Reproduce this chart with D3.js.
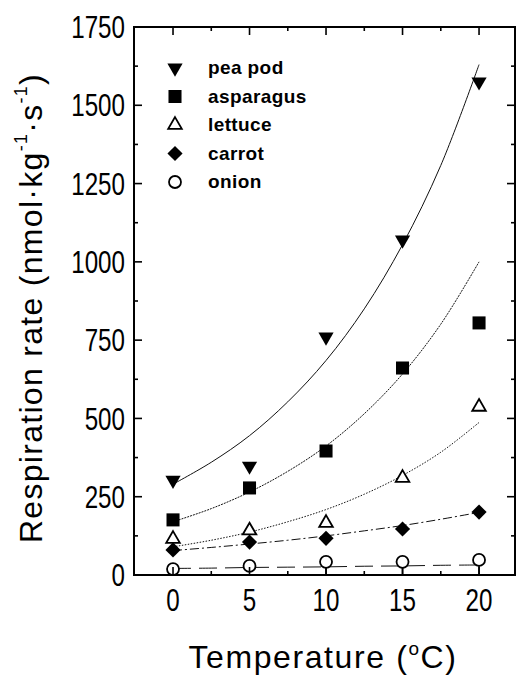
<!DOCTYPE html>
<html>
<head>
<meta charset="utf-8">
<script src="https://cdn.jsdelivr.net/npm/d3@7"></script>
<style>
  body { margin: 0; background: #fff; }
  svg { display: block; }
  text { font-family: Arial, "Liberation Sans", sans-serif; fill: #000; }
</style>
</head>
<body>
<div id="chart"></div>
<script>
// Measured temperatures (°C)
const temps = [0, 5, 10, 15, 20];

// Respiration rates (nmol·kg-1·s-1)
const peaPod = [303, 348, 760, 1070, 1575];
const asparagus = [176, 278, 396, 661, 805];
const lettuce = [115, 142, 166, 310, 537];
const carrot = [80, 105, 117, 147, 201];
const onion = [19, 29, 42, 42, 48];
const onionErrLow = [0, 0, 42, 42, 48];

// Fitted curves at 2.5 °C steps
const fitTemps = [0, 2.5, 5, 7.5, 10, 12.5, 15, 17.5, 20];
const peaPodFit = [290, 360, 445, 553, 685, 850, 1055, 1308, 1630];
const asparagusFit = [170, 212, 265, 331, 412, 515, 642, 801, 1000];
const lettuceFit = [90, 111, 137, 170, 209, 258, 318, 392, 487];
const carrotFit = [78, 88, 99, 111, 125, 141, 158, 178, 200];
const onionFit = [21, 22, 24, 25, 26, 28, 29, 31, 32];

// Axis ticks
const xTicks = [0, 5, 10, 15, 20];
const xMinor = [-2.5, 2.5, 7.5, 12.5, 17.5, 22.5];
const yTicks = [0, 250, 500, 750, 1000, 1250, 1500, 1750];
const yMinor = [125, 375, 625, 875, 1125, 1375, 1625];

const series = [
  { name: 'pea pod', values: peaPod, fit: peaPodFit, symbol: 'triDown', dash: null },
  { name: 'asparagus', values: asparagus, fit: asparagusFit, symbol: 'square', dash: '2,1' },
  { name: 'lettuce', values: lettuce, fit: lettuceFit, symbol: 'triUp', dash: '1.5,1.5' },
  { name: 'carrot', values: carrot, fit: carrotFit, symbol: 'diamond', dash: '9,3,2,3' },
  { name: 'onion', values: onion, fit: onionFit, symbol: 'circle', dash: '18,8' },
];

const width = 516;
const height = 679;
const plot = { left: 134, right: 515, top: 27, bottom: 575 };

const svg = d3.select('#chart')
  .append('svg')
  .attr('width', width)
  .attr('height', height);

const x = d3.scaleLinear().domain([-2.55, 22.35]).range([plot.left, plot.right]);
const y = d3.scaleLinear().domain([0, 1750]).range([plot.bottom, plot.top]);

// Draw a marker of a given kind
function drawSymbol(g, kind, cx, cy) {
  if (kind === 'triDown') {
    g.append('path')
      .attr('d', d3.symbol(d3.symbolTriangle, 100)())
      .attr('transform', `translate(${cx},${cy}) rotate(180)`)
      .attr('fill', '#000');
  } else if (kind === 'triUp') {
    g.append('path')
      .attr('d', d3.symbol(d3.symbolTriangle, 80)())
      .attr('transform', `translate(${cx},${cy})`)
      .attr('fill', '#fff')
      .attr('stroke', '#000')
      .attr('stroke-width', 1.8);
  } else if (kind === 'square') {
    g.append('path')
      .attr('d', d3.symbol(d3.symbolSquare, 170)())
      .attr('transform', `translate(${cx},${cy})`)
      .attr('fill', '#000');
  } else if (kind === 'diamond') {
    g.append('path')
      .attr('d', d3.symbol(d3.symbolSquare, 115)())
      .attr('transform', `translate(${cx},${cy}) rotate(45)`)
      .attr('fill', '#000');
  } else {
    g.append('circle')
      .attr('cx', cx)
      .attr('cy', cy)
      .attr('r', 6)
      .attr('fill', '#fff')
      .attr('stroke', '#000')
      .attr('stroke-width', 1.8);
  }
}

// Fitted curves
const line = d3.line()
  .x((d) => x(d[0]))
  .y((d) => y(d[1]))
  .curve(d3.curveCatmullRom);

const curves = svg.append('g');
series.forEach((s) => {
  curves.append('path')
    .datum(fitTemps.map((t, i) => [t, s.fit[i]]))
    .attr('d', line)
    .attr('fill', 'none')
    .attr('stroke', '#111')
    .attr('stroke-width', 1)
    .attr('stroke-dasharray', s.dash);
});

// Onion lower error bars
svg.append('g')
  .selectAll('line')
  .data(temps.map((t, i) => ({ t, v: onion[i], e: onionErrLow[i] })).filter((d) => d.e > 0))
  .enter()
  .append('line')
  .attr('x1', (d) => x(d.t))
  .attr('x2', (d) => x(d.t))
  .attr('y1', (d) => y(d.v))
  .attr('y2', (d) => y(Math.max(0, d.v - d.e)))
  .attr('stroke', '#000')
  .attr('stroke-width', 1.6);

// Data markers (draw onion first so the others sit on top)
const marks = svg.append('g');
series.slice().reverse().forEach((s) => {
  s.values.forEach((v, i) => drawSymbol(marks, s.symbol, x(temps[i]), y(v)));
});

// Frame
svg.append('rect')
  .attr('x', plot.left)
  .attr('y', plot.top)
  .attr('width', plot.right - plot.left)
  .attr('height', plot.bottom - plot.top)
  .attr('fill', 'none')
  .attr('stroke', '#000')
  .attr('stroke-width', 2);

// Inward ticks on all four sides
const ticks = svg.append('g').attr('stroke', '#000').attr('stroke-width', 1.6);
function addTicksX(vals, len) {
  vals.forEach((v) => {
    ticks.append('line').attr('x1', x(v)).attr('x2', x(v)).attr('y1', plot.bottom).attr('y2', plot.bottom - len);
    ticks.append('line').attr('x1', x(v)).attr('x2', x(v)).attr('y1', plot.top).attr('y2', plot.top + len);
  });
}
function addTicksY(vals, len) {
  vals.forEach((v) => {
    ticks.append('line').attr('y1', y(v)).attr('y2', y(v)).attr('x1', plot.left).attr('x2', plot.left + len);
    ticks.append('line').attr('y1', y(v)).attr('y2', y(v)).attr('x1', plot.right).attr('x2', plot.right - len);
  });
}
addTicksX(xTicks, 8);
addTicksX(xMinor.filter((v) => x(v) > plot.left + 2 && x(v) < plot.right - 2), 4);
addTicksY(yTicks.slice(1, -1), 8);
addTicksY(yMinor, 4);

// Tick labels (narrow digits)
svg.append('g')
  .selectAll('g')
  .data(yTicks)
  .enter()
  .append('g')
  .attr('transform', (d) => `translate(125,${y(d)}) scale(0.78,1)`)
  .append('text')
  .attr('text-anchor', 'end')
  .attr('dy', '0.36em')
  .attr('font-size', '31px')
  .text((d) => d);

svg.append('g')
  .selectAll('g')
  .data(xTicks)
  .enter()
  .append('g')
  .attr('transform', (d) => `translate(${x(d)},611) scale(0.78,1)`)
  .append('text')
  .attr('text-anchor', 'middle')
  .attr('font-size', '31px')
  .text((d) => d);

// Axis titles
const xTitle = svg.append('text')
  .attr('x', 323)
  .attr('y', 668)
  .attr('text-anchor', 'middle')
  .attr('font-size', '32px')
  .attr('letter-spacing', '1.6px');
xTitle.append('tspan').text('Temperature (');
xTitle.append('tspan').attr('font-size', '19px').attr('dy', '-13').text('o');
xTitle.append('tspan').attr('dy', '13').text('C)');

const yTitle = svg.append('text')
  .attr('transform', 'translate(42,308) rotate(-90)')
  .attr('text-anchor', 'middle')
  .attr('font-size', '32px')
  .attr('letter-spacing', '1.3px');
yTitle.append('tspan').text('Respiration rate (nmol·kg');
yTitle.append('tspan').attr('font-size', '18px').attr('dy', '-15').text('-1');
yTitle.append('tspan').attr('dy', '15').text('·s');
yTitle.append('tspan').attr('font-size', '18px').attr('dy', '-15').text('-1');
yTitle.append('tspan').attr('dy', '15').text(')');

// Legend
const legend = svg.append('g');
series.forEach((s, i) => {
  const cy = 68 + i * 28.5;
  drawSymbol(legend, s.symbol, 175, cy);
  legend.append('text')
    .attr('x', 208)
    .attr('y', cy + 6)
    .attr('font-size', '19px')
    .attr('font-weight', 'bold')
    .attr('letter-spacing', '0.4px')
    .text(s.name);
});
</script>
</body>
</html>
